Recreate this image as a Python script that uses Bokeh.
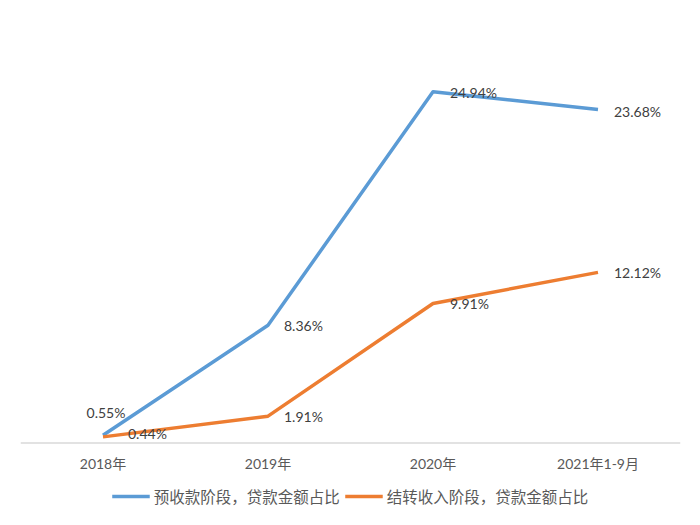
from bokeh.plotting import figure
from bokeh.models import ColumnDataSource, Legend, LegendItem, Range1d, FactorRange, Span
from bokeh.core.properties import value
from bokeh.embed import file_html
from bokeh.resources import INLINE

categories = ["2018年", "2019年", "2020年", "2021年1-9月"]
advance_pct = [0.55, 8.36, 24.94, 23.68]
transfer_pct = [0.44, 1.91, 9.91, 12.12]
series_names = ["预收款阶段，贷款金额占比", "结转收入阶段，贷款金额占比"]

BLUE = "#5B9BD5"
ORANGE = "#ED7D31"
TXT = "#404040"

p = figure(x_range=FactorRange(*categories, range_padding=0),
           y_range=Range1d(-5, 30),
           frame_width=660, frame_height=493,
           min_border_left=20, min_border_right=12, min_border_top=20,
           min_border_bottom=0,
           output_backend="svg", toolbar_location=None)
p.background_fill_color = "white"
p.border_fill_color = "white"
p.outline_line_color = None
p.grid.visible = False
p.yaxis.visible = False
p.xaxis.visible = False

# baseline (category axis line)
p.add_layout(Span(location=0, dimension="width", line_color="#D9D9D9", line_width=1.5))

# category labels under the baseline
p.text(x=categories, y=[0] * len(categories), text=categories,
       text_align="center", text_baseline="middle", y_offset=20,
       text_font=value("Lato, 'Noto Sans CJK SC'"), text_font_size="14px",
       text_color="#595959")

src_a = ColumnDataSource(dict(x=categories, y=advance_pct))
src_b = ColumnDataSource(dict(x=categories, y=transfer_pct))
ra = p.line("x", "y", source=src_a, line_color=BLUE, line_width=3.5, line_join="round")
rb = p.line("x", "y", source=src_b, line_color=ORANGE, line_width=3.5, line_join="round")

# data labels
lab_a = dict(x=categories, y=advance_pct,
             t=[f"{v:.2f}%" for v in advance_pct],
             align=["center", "left", "left", "left"],
             dx=[3, 16, 17, 16], dy=[-23, 0, 1, 2])
lab_b = dict(x=categories, y=transfer_pct,
             t=[f"{v:.2f}%" for v in transfer_pct],
             align=["left", "left", "left", "left"],
             dx=[25, 16, 17, 16], dy=[-3, 0, 0, 0])
for d in (lab_a, lab_b):
    p.text(x="x", y="y", text="t", source=ColumnDataSource(d),
           text_align="align", text_baseline="middle",
           x_offset="dx", y_offset="dy",
           text_font=value("Lato"), text_font_size="14px", text_color=TXT)

legend = Legend(items=[LegendItem(label=series_names[0], renderers=[ra]),
                       LegendItem(label=series_names[1], renderers=[rb])],
                orientation="horizontal", location="bottom_center",
                border_line_alpha=0, background_fill_alpha=0,
                margin=6, padding=0, spacing=5,
                glyph_width=38, glyph_height=20, label_height=20, label_standoff=4,
                label_text_font="Noto Sans CJK SC",
                label_text_font_size="15.5px", label_text_color="#595959")
p.add_layout(legend, "center")

open("out.html", "w").write(file_html(p, INLINE))
